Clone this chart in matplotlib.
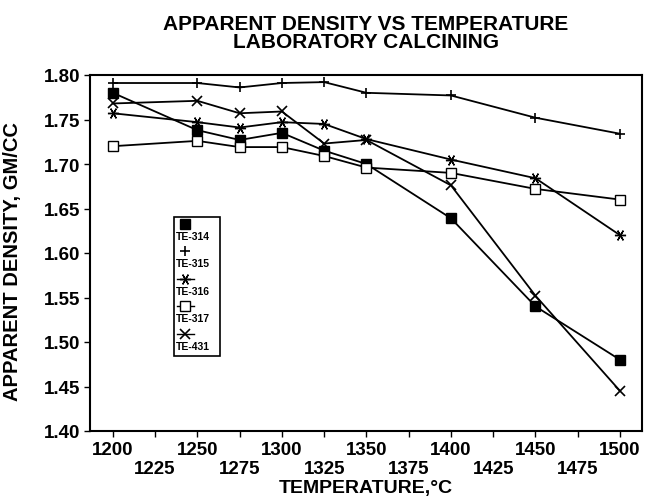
import matplotlib
matplotlib.use("Agg")
import matplotlib.pyplot as plt
from matplotlib.patches import Rectangle

plt.rcParams['font.family'] = ['Liberation Sans', 'DejaVu Sans']
plt.rcParams['font.weight'] = 'bold'

# ── Data ──────────────────────────────────────────────────────────────────
temps = [1200, 1250, 1275, 1300, 1325, 1350, 1400, 1450, 1500]

te_314 = [1.780, 1.738, 1.727, 1.735, 1.715, 1.700, 1.639, 1.540, 1.480]
te_315 = [1.791, 1.791, 1.786, 1.791, 1.792, 1.780, 1.777, 1.752, 1.734]
te_316 = [1.757, 1.747, 1.741, 1.747, 1.745, 1.728, 1.705, 1.684, 1.620]
te_317 = [1.720, 1.726, 1.719, 1.719, 1.709, 1.696, 1.690, 1.672, 1.660]
te_431 = [1.768, 1.771, 1.757, 1.759, 1.723, 1.727, 1.676, 1.552, 1.445]

series_names = ["TE-314", "TE-315", "TE-316", "TE-317", "TE-431"]

x_ticks = [1200, 1225, 1250, 1275, 1300, 1325, 1350, 1375, 1400, 1425, 1450, 1475, 1500]
x_labels = ["1200", "\n1225", "1250", "\n1275", "1300", "\n1325", "1350",
            "\n1375", "1400", "\n1425", "1450", "\n1475", "1500"]
y_ticks = [1.40, 1.45, 1.50, 1.55, 1.60, 1.65, 1.70, 1.75, 1.80]

# ── Styles ────────────────────────────────────────────────────────────────
styles = {
    "TE-314": dict(marker="s", ms=6.5, mfc="black", mec="black"),
    "TE-315": dict(marker="+", ms=7, mew=1.2),
    "TE-316": dict(marker=(6, 2, 90), ms=8, mew=1.0),
    "TE-317": dict(marker="s", ms=6.5, mfc="white", mec="black", mew=1.0),
    "TE-431": dict(marker="x", ms=7, mew=1.2),
}

W, H = 647, 502
fig = plt.figure(figsize=(W / 100, H / 100), dpi=100)
ax_l, ax_r, ax_t, ax_b = 90, 642, 76, 432
ax = fig.add_axes([ax_l / W, 1 - ax_b / H, (ax_r - ax_l) / W, (ax_b - ax_t) / H])

for name, vals in zip(series_names, [te_314, te_315, te_316, te_317, te_431]):
    ax.plot(temps, vals, color="black", lw=1.3, **styles[name])

ax.set_xlim(1186.5, 1513)
ax.set_ylim(1.40, 1.80)
ax.set_xticks(x_ticks)
ax.set_xticklabels(x_labels)
ax.set_yticks(y_ticks)
ax.set_yticklabels([f"{v:.2f}" for v in y_ticks])
ax.tick_params(direction="out", length=4, width=1, labelsize=13.5, pad=3)

for s in ax.spines.values():
    s.set_linewidth(1.5)

ax.set_xlabel("TEMPERATURE,°C", fontsize=14, fontweight="bold", labelpad=1)
ax.set_ylabel("APPARENT DENSITY, GM/CC", fontsize=14.5, fontweight="bold")
ax.yaxis.set_label_coords((22 - ax_l) / (ax_r - ax_l), (ax_b - 262) / (ax_b - ax_t))

fig.text(366 / W, 1 - 24 / H, "APPARENT DENSITY VS TEMPERATURE",
         ha="center", va="center", fontsize=15, fontweight="bold")
fig.text(366 / W, 1 - 42 / H, "LABORATORY CALCINING",
         ha="center", va="center", fontsize=15, fontweight="bold")


# ── Hand-drawn legend (marker above label, as in the original) ────────────
def px(x, y):
    return ((x - ax_l) / (ax_r - ax_l), (ax_b - y) / (ax_b - ax_t))


bx0, by0 = px(174, 357)
bx1, by1 = px(220, 218)
ax.add_patch(Rectangle((bx0, by0), bx1 - bx0, by1 - by0, transform=ax.transAxes,
                       fill=False, ec="black", lw=1.2, clip_on=False))

for i, name in enumerate(series_names):
    my = 225 + i * 27.4
    ly = my + 12
    st = dict(styles[name])
    if i >= 2:
        p0, p1 = px(177, my), px(194, my)
        ax.plot([p0[0], p1[0]], [p0[1], p1[1]], color="black", lw=1.0,
                transform=ax.transAxes, clip_on=False)
    cx, cy = px(185, my)
    ax.plot([cx], [cy], color="black", transform=ax.transAxes, clip_on=False, **st)
    tx, ty = px(176, ly)
    ax.text(tx, ty, name, transform=ax.transAxes, ha="left", va="center",
            fontsize=7.5, fontweight="bold")

fig.savefig("out.png", dpi=100)
